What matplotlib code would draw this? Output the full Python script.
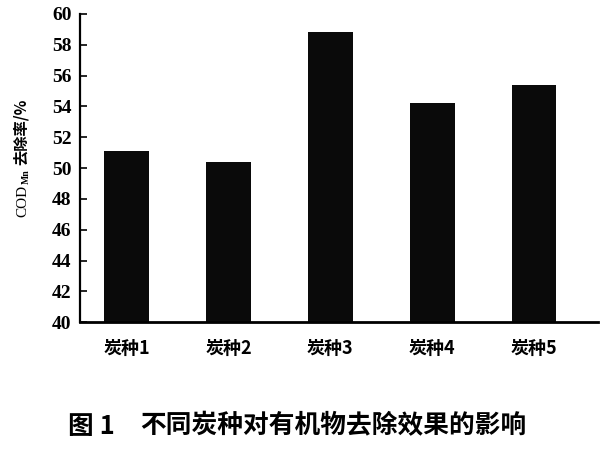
import numpy as np
import matplotlib
matplotlib.use('Agg')
import matplotlib.pyplot as plt

plt.rcParams['font.family'] = ['Liberation Serif', 'Noto Sans CJK SC', 'DejaVu Sans']

categories = ['炭种1', '炭种2', '炭种3', '炭种4', '炭种5']
removal = [51.1, 50.4, 58.8, 54.2, 55.4]
yticks = [40, 42, 44, 46, 48, 50, 52, 54, 56, 58, 60]

cjk = ['Noto Sans CJK SC', 'DejaVu Sans']

fig = plt.figure(figsize=(6, 4.5), dpi=100)
ax = fig.add_axes([0.133, 0.284, 0.864, 0.685])

x = np.arange(len(categories))
ax.bar(x, removal, width=0.44, bottom=0, color='#0a0a0a', edgecolor='none')

ax.set_ylim(40, 60)
ax.set_xlim(-0.46, 4.63)
ax.set_yticks(yticks)
ax.set_yticklabels([str(v) for v in yticks], family='Liberation Serif',
                   fontsize=14, fontweight='bold')
ax.set_xticks(x)
ax.set_xticklabels(categories, family=cjk, fontsize=13, fontweight='bold')
ax.tick_params(axis='y', direction='in', length=5, width=1.2, pad=6)
ax.tick_params(axis='x', length=0, pad=12)

for s in ['top', 'right']:
    ax.spines[s].set_visible(False)
ax.spines['left'].set_linewidth(1.6)
ax.spines['bottom'].set_linewidth(2.0)

# y label built from pieces: COD, subscript Mn, then 去除率/%
renderer = fig.canvas.get_renderer()
W, H = 600, 450
pieces = [('COD', 'Liberation Serif', 11, 'normal', 0, 1),
          ('Mn', 'Liberation Serif', 7, 'bold', 3, 4),
          ('去除率/%', cjk, 11, 'bold', 0, 0)]
ypos = 450 - 217
for txt, fam, size, weight, shift, gap in pieces:
    t = fig.text((26 + shift) / W, ypos / H, txt, rotation=90, rotation_mode='anchor',
                 ha='left', va='baseline', family=fam, fontsize=size, fontweight=weight)
    bb = t.get_window_extent(renderer)
    ypos = bb.y1 + gap

# caption
fig.text(68 / W, 1 - 426 / H, '图 1', family=cjk, fontsize=18.5, fontweight='bold',
         ha='left', va='center')
fig.text(140 / W, 1 - 426 / H, '不同炭种对有机物去除效果的影响', family=cjk,
         fontsize=18.5, fontweight='bold', ha='left', va='center')

fig.savefig('out.png', dpi=100)
